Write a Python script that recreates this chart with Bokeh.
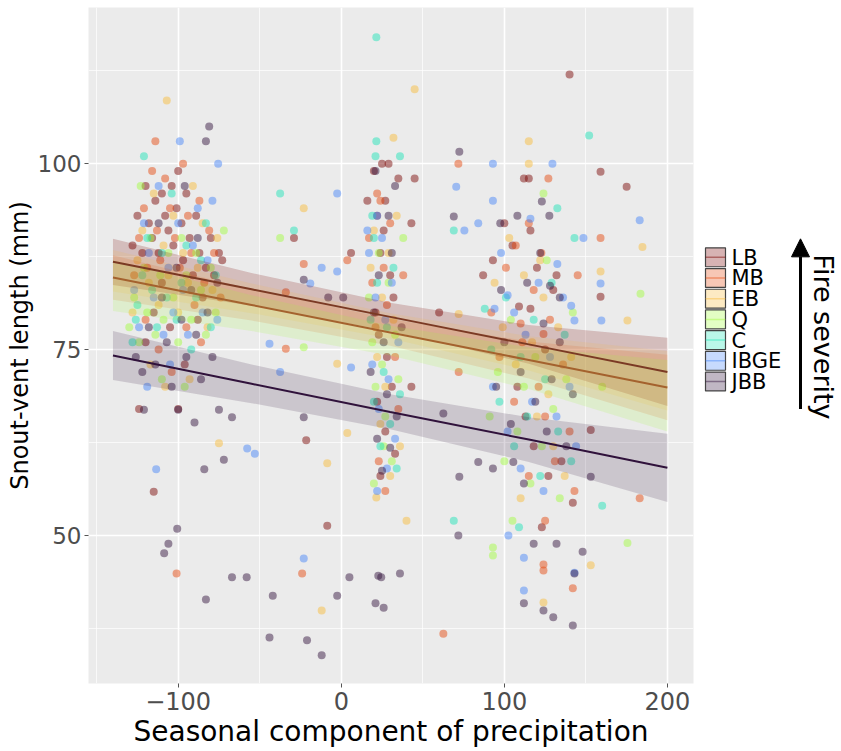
from math import pi
from bokeh.plotting import figure
from bokeh.layouts import row
from bokeh.models import FixedTicker, Arrow, NormalHead
from bokeh.core.properties import value
from bokeh.palettes import turbo
from bokeh.embed import file_html
from bokeh.resources import INLINE

groups = ["LB", "MB", "EB", "Q", "C", "IBGE", "JBB"]

lb_x = [-128, -125, -122, -120, -118, -116, -114, -112, -110, -108, -106, -104, -103, -101, -100, -98, -97, -95, -93, -91,
        -89, -87, -85, -83, -80, -78, -75, -73, -110, -115, -120, -105, -96, -88, -124, -115, -100,
        16, 20, 22, 24, 25, 27, 29, 30, 32, 21, 23, 26, 28, 31, 22, 35, 43, 45, 27, 24, 33,
        93, 87, 100, 105, 109, 112, 115, 116, 116, 120, 125, 130, 132, 118, 123, 142, 153, 159, 159, 175, 108, 113, 127, 135, 140,
        -29, 6, -8.6, -21.5, 43, 60]
lb_y = [89, 93, 88, 97, 92, 90, 95, 88, 96, 93, 91, 97, 89, 94, 99, 92, 87, 96, 90, 85,
        93, 88, 82, 86, 90, 85, 88, 87, 84, 80, 76, 78, 73, 79, 67, 55.9, 67,
        95, 99, 93, 88, 100, 95, 100, 85, 82, 80, 77, 91, 74, 70, 68, 98, 92, 98, 64, 58, 61,
        87, 85, 92, 89, 80.8, 98, 98, 91, 80.5, 86, 75, 83, 85, 62, 51.1, 54.4, 64.2, 82.1, 98.9, 96.9, 70, 66, 58, 60, 112,
        90, 88, 51.3, 62.8, 70, 80]

mb_x = [-114, 71.8, 127, 107, 159, 122.7, 110, 124, 72, 22, -23, 3.7, -34, -34, 124, 124, 142, 62.6, 183, 143,
        -127, -124, -121, -119, -116, -113, -111, -108, -105, -102, -99, -97, -94, -92, -90, -87, -84, -81, -78, -74,
        -120, -112, -104, -95, -86, -101, -24,
        17, 19, 21, 24, 26, 28, 30, 33, 35, 23, 27, 38,
        92, 97, 101, 106, 111, 115, 118, 121, 125, 128, 131, 136, 140, 145, 115, 125]
mb_y = [103, 100, 98, 89, 90, 88, 78.5, 77.1, 72, 96, 86.5, 87, 82.7, 75.1, 45.3, 46.1, 42.9, 36.8, 55, 56,
        85, 90, 94, 86, 99, 91, 87, 98, 94, 90, 86, 100, 93, 88, 81, 95, 84, 91, 88, 82,
        79, 75, 72, 78, 76, 44.9, 44.9,
        90, 84, 78, 95, 86, 81, 92, 74, 67, 60, 56, 85,
        80, 74, 86, 68, 76, 92, 83, 70, 66, 79, 60, 73, 64, 85, 58, 52]

eb_x = [-107, 45, 32, 115, 115, 122, 159, 175.5, 72, -23, -2.5, 124, 153, 184.7, 40, -12, 21.5, 3.7, -8.6, -75,
        -128, -125, -122, -118, -115, -112, -109, -106, -103, -100, -97, -94, -91, -88, -85, -82, -79, -76, -117, -108, -93,
        18, 20, 22, 25, 27, 29, 32, 34, 24, 30, 36,
        94, 99, 103, 107, 112, 117, 120, 124, 127, 133, 137, 141, 110, 130]
eb_y = [108.5, 110, 103.5, 103, 100, 87, 85.5, 78.9, 79.8, 94, 73.1, 41, 46, 88.8, 52, 39.9, 55.1, 63.8, 59.7, 62.4,
        80, 87, 91, 84, 96, 81, 89, 85, 93, 80, 88, 84, 97, 86, 92, 78, 83, 90, 73, 70, 71,
        86, 91, 74, 82, 70, 88, 79, 93, 65, 58, 62,
        84, 78, 90, 73, 85, 76, 66, 82, 69, 78, 58, 74, 55, 62]

q_x = [-37.5, -23, 124, 183.5, 175.5, 93, 93,
       -130, -127, -124, -121, -119, -117, -114, -111, -109, -106, -103, -100, -98, -95, -92, -89, -86, -83, -80, -77, -72,
       -123, -110, -96,
       17, 19, 21, 23, 25, 27, 29, 31, 33, 35, 20, 26, 38,
       91, 96, 100, 104, 108, 112, 116, 119, 123, 126, 130, 134, 138, 142, 105, 160]
q_y = [90, 75.3, 96, 82.5, 49, 48.4, 47.3,
       78, 82, 76, 86, 80, 90, 77, 85, 79, 88, 82, 76, 90, 85, 79, 88, 83, 77, 86, 80, 91,
       97, 71, 70,
       82, 76, 70, 88, 73, 66, 84, 60, 77, 71, 57, 62, 90,
       66, 72, 60, 79, 64, 70, 57, 74, 62, 87, 67, 55, 71, 80, 52, 70]

c_x = [21.5, -121, 21.5, 21, 36, 152, 132.5, 69, 143, 88, -37.5, -29, 20, 160, 109, 69,
       -128, -125, -122, -119, -116, -113, -110, -107, -104, -101, -98, -95, -92, -89, -86, -83, -80, -77, -126,
       18, 20, 22, 24, 26, 28, 30, 32, 34, 19, 36,
       92, 97, 101, 106, 110, 114, 118, 122, 125, 129, 133, 137, 141]
c_y = [117, 101, 103, 101, 101, 103.8, 94, 91, 90, 80.5, 96, 91, 90, 54, 51.1, 52,
       76, 81, 85, 90, 83, 78, 88, 82, 96, 79, 84, 89, 75, 82, 87, 92, 78, 85, 79,
       79, 68, 84, 62, 72, 78, 65, 86, 59, 93, 69,
       75, 68, 82, 62, 74, 66, 79, 58, 71, 84, 64, 77, 60]

ibge_x = [-99, -75.5, 93, 129.5, 70.5, 93, 75.5, 84, 116, 148.5, 183, 132.5, 159, 102, 94, 141, 143, 159.5,
          -2.5, 16, -12, -2.5, -19, -44, 6, -37.5, 22, 102.5, 112, 143, 112, -57.7, -53, -23, -113.5,
          -127, -124, -121, -118, -115, -112, -109, -106, -103, -100, -97, -94, -91, -88, -85, -82, -79, -76, -119, -105,
          17, 19, 21, 23, 25, 27, 29, 31, 33, 35, 22, 28,
          93, 98, 102, 106, 110, 113, 117, 121, 124, 128, 132, 136, 140, 144]
ibge_y = [103, 100, 100, 100, 96.9, 95, 91, 92, 92.6, 90, 92.4, 86.5, 83.9, 82.3, 80.5, 80.9, 78.9, 78.9,
          96, 91, 86, 85.5, 83.9, 75.8, 72.6, 72, 93, 50, 42.6, 45, 47, 61.7, 61, 46.9, 58.9,
          83, 78, 92, 88, 82, 97, 77, 86, 80, 92, 83, 77, 89, 94, 80, 87, 95, 79, 70, 73,
          88, 73, 82, 67, 90, 79, 71, 84, 63, 76, 56, 59,
          70, 88, 64, 80, 59, 77, 68, 84, 56, 74, 66, 82, 70, 62]

jbb_x = [-121, -100, -90, -75, -67, -72, -84, -100.6, -106, -108.6, -67, -58, -83, -42, -44, -21, -12, -2.5, 5,
         22.7, 24.5, 36, 21, 26, -23, 30, 25, 62.6, 72.4, 71.8, 84, 93, 105.5, 112, 118, 132, 148, 143, 112, 124,
         130, 142, 153, -81, -83, 72.4, 123, 127.6, 69, 97.5, 108, 128, 134, 124, 21, 33, -23, -8, 1.2,
         -126, -122, -118, -114, -110, -107, -104, -101, -98, -95, -92, -89, -86, -82, -79, -76, -112, -96, -88,
         18, 20, 23, 26, 28, 31, 34, 22, 37, 29,
         95, 100, 104, 110, 114, 119, 122, 126, 129, 134, 138, 142, 98]
jbb_y = [66.9, 66.9, 65.2, 66.9, 65.9, 60.2, 58.9, 50.9, 48.9, 47.6, 44.4, 44.4, 41.4, 41.9, 36.3, 35.9, 33.9, 41.9, 44.4,
         44.6, 44.4, 44.9, 40.9, 40.3, 65.9, 61.8, 58.7, 66.4, 57.9, 50.0, 59.9, 59, 59.9, 57, 48.9, 48.9, 47.8, 44.9, 40.9, 39.9,
         39, 37.9, 57.9, 105, 103, 101.6, 94.9, 93, 92.9, 92, 93, 83.6, 82, 78.5, 99, 97, 84.4, 82, 82,
         74, 72, 78, 73, 82, 76, 70, 86, 79, 74, 83, 77, 71, 80, 74, 84, 92, 97, 90,
         72, 80, 85, 76, 69, 88, 66, 63, 78, 93,
         70, 76, 65, 72, 84, 68, 88, 64, 71, 76, 62, 69, 83]

# fitted lines and confidence bands
fit_x = [-140, -55, 30, 115, 200]
lb_fit = [86.8, 83.1, 79.4, 75.7, 72.0]
lb_lo = [83.7, 80.9, 77.5, 73.1, 67.4]
lb_hi = [89.9, 85.3, 81.3, 78.3, 76.6]
mb_fit = [84.7, 81.0, 77.3, 73.6, 69.9]
mb_lo = [81.7, 78.9, 75.5, 71.1, 65.5]
mb_hi = [87.7, 83.1, 79.1, 76.1, 74.3]
eb_lo = [82.8, 79.9, 76.5, 72.2, 66.8]
eb_hi = [88.4, 83.9, 79.9, 76.8, 74.8]
q_lo = [80.2, 77.5, 74.2, 69.7, 64.0]
q_hi = [87.0, 82.3, 78.2, 75.3, 73.6]
jbb_fit = [74.2, 70.4, 66.6, 62.9, 59.1]
jbb_lo = [70.9, 67.8, 64.3, 59.9, 54.5]
jbb_hi = [77.5, 73.0, 69.0, 65.9, 63.7]

x_ticks = [-100, 0, 100, 200]
x_minor = [-150, -50, 50, 150]
y_ticks = [50, 75, 100]
y_minor = [37.5, 62.5, 87.5, 112.5]

pal = list(reversed(turbo(7)))  # LB ... JBB
col = dict(zip(groups, pal))
FONT = "DejaVu Sans"

p = figure(width=700, height=751, x_range=(-155, 216), y_range=(30.1, 121),
           output_backend="svg", toolbar_location=None,
           min_border_left=88, min_border_right=7, min_border_top=7, min_border_bottom=68)
p.background_fill_color = "#EBEBEB"
p.border_fill_color = "white"
p.outline_line_color = None

p.xaxis.ticker = FixedTicker(ticks=x_ticks, minor_ticks=x_minor)
p.yaxis.ticker = FixedTicker(ticks=y_ticks, minor_ticks=y_minor)
p.xaxis.major_label_overrides = {-100: "\u2212100"}
for ax in (p.xaxis[0], p.yaxis[0]):
    ax.axis_line_color = None
    ax.major_tick_line_color = "#555555"
    ax.major_tick_out = 4
    ax.major_tick_in = 0
    ax.minor_tick_out = 0
    ax.minor_tick_in = 0
    ax.major_label_text_font = FONT
    ax.major_label_text_color = "#4D4D4D"
    ax.major_label_standoff = 4
    ax.axis_label_text_font = FONT
    ax.axis_label_text_font_style = "normal"
    ax.axis_label_text_color = "black"
p.xaxis.major_label_text_font_size = "24px"
p.yaxis.major_label_text_font_size = "23px"
p.yaxis.major_label_standoff = 3
p.xaxis.axis_label = "Seasonal component of precipitation"
p.xaxis.axis_label_text_font_size = "28px"
p.xaxis.axis_label_standoff = 2
p.yaxis.axis_label = "Snout-vent length (mm)"
p.yaxis.axis_label_text_font_size = "24px"
p.yaxis.axis_label_standoff = 1

for g in (p.xgrid[0], p.ygrid[0]):
    g.grid_line_color = "white"
    g.grid_line_width = 1.6
    g.minor_grid_line_color = "white"
    g.minor_grid_line_width = 0.7

series = [("LB", lb_x, lb_y), ("MB", mb_x, mb_y), ("EB", eb_x, eb_y), ("Q", q_x, q_y),
          ("C", c_x, c_y), ("IBGE", ibge_x, ibge_y), ("JBB", jbb_x, jbb_y)]
for name, xs, ys in series:
    p.scatter(xs, ys, size=8, fill_color=col[name], fill_alpha=0.47, line_color=None)

bands = [("LB", lb_lo, lb_hi), ("MB", mb_lo, mb_hi), ("EB", eb_lo, eb_hi), ("Q", q_lo, q_hi), ("JBB", jbb_lo, jbb_hi)]
band_alpha = {"LB": 0.2, "MB": 0.14, "EB": 0.14, "Q": 0.17, "JBB": 0.17}
for name, lo, hi in bands:
    p.varea(x=fit_x, y1=lo, y2=hi, fill_color=col[name], fill_alpha=band_alpha[name])

p.line(fit_x, lb_fit, line_color="#7B3A24", line_width=2)
p.line(fit_x, mb_fit, line_color="#A4622E", line_width=2)
p.line(fit_x, jbb_fit, line_color=col["JBB"], line_width=2)

# legend panel
q = figure(width=141, height=751, x_range=(0, 141), y_range=(751, 0),
           output_backend="svg", toolbar_location=None, x_axis_type=None, y_axis_type=None,
           min_border_left=0, min_border_right=0, min_border_top=0, min_border_bottom=0)
q.grid.visible = False
q.outline_line_color = None
q.background_fill_color = "white"
q.border_fill_color = "white"

key_top = [266 + 23 * i for i in range(7)]
q.quad(left=5, right=25, top=[t + 1 for t in key_top], bottom=[t + 22 for t in key_top],
       fill_color=pal, fill_alpha=0.3, line_color="#444444", line_width=1.2)
q.segment(x0=5, x1=25, y0=[t + 11.5 for t in key_top], y1=[t + 11.5 for t in key_top],
          line_color=pal, line_alpha=0.45, line_width=1.5)
q.text(x=31, y=[t + 12 for t in key_top], text=groups, text_font=value(FONT),
       text_font_size="21px", text_baseline="middle", text_color="black")

q.add_layout(Arrow(end=NormalHead(size=18, fill_color="black", line_color="black"),
                   x_start=100, y_start=446, x_end=100, y_end=257, line_width=3, line_color="black"))
q.text(x=[123], y=[366], text=["Fire severity"], angle=-pi / 2, text_font=value(FONT),
       text_font_size="27px", text_align="center", text_baseline="middle", text_color="black")

layout = row(p, q)
open("out.html", "w").write(file_html(layout, INLINE))
